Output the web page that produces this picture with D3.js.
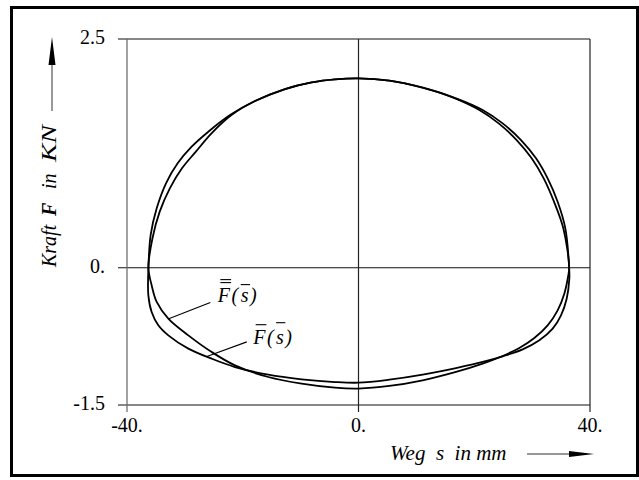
<!DOCTYPE html>
<html>
<head>
<meta charset="utf-8">
<script src="https://cdn.jsdelivr.net/npm/d3@7"></script>
<style>
  html, body { margin: 0; padding: 0; background: #fff; }
  svg { display: block; }
  text { font-family: "Liberation Serif", "Times New Roman", serif; fill: #000; }
</style>
</head>
<body>
<svg id="chart" width="639" height="480"></svg>
<script>
// Axis ticks and their printed labels
const xTicks = [-40, 0, 40];
const xTickLabels = ["-40.", "0.", "40."];
const yTicks = [-1.5, 0, 2.5];
const yTickLabels = ["-1.5", "0.", "2.5"];

// Closed force–displacement loop  F̄(s̄), counter-clockwise from the right crossing
const sBar = [36.4, 35.74, 34.41, 32.68, 30.67, 28.08, 24.91, 21.45, 16.85, 11.09, 5.33, 0,
  -4.06, -8.09, -12.70, -17.88, -22.20, -25.95, -28.83, -31.25, -33.26, -34.87, -35.91, -36.3,
  -36.31, -35.74, -34.59, -32.86, -29.40, -25.37, -21.34, -15.58, -9.82, -4.06, 0,
  5.33, 11.09, 16.85, 21.45, 24.91, 28.37, 31.25, 33.55, 34.99, 35.97, 36.43];
const fBar = [0.0, 0.431, 0.722, 0.977, 1.196, 1.396, 1.578, 1.724, 1.852, 1.968, 2.045, 2.07,
  2.059, 2.026, 1.953, 1.822, 1.669, 1.487, 1.323, 1.141, 0.923, 0.649, 0.358, 0.0,
  -0.301, -0.484, -0.629, -0.739, -0.884, -0.994, -1.085, -1.169, -1.219, -1.249, -1.256,
  -1.223, -1.168, -1.096, -1.030, -0.968, -0.892, -0.793, -0.666, -0.520, -0.338, -0.119];

// Closed force–displacement loop  F̿(s̄), same orientation
const sDbl = [36.4, 35.39, 33.78, 32.00, 29.92, 27.33, 24.22, 20.88, 16.27, 11.09, 5.33, 0,
  -4.06, -8.09, -12.70, -17.88, -21.95, -25.4, -28.1, -30.5, -32.6, -34.35, -35.6, -36.3,
  -35.74, -34.87, -32.86, -29.40, -25.37, -21.34, -15.58, -9.82, -4.06, 0,
  5.33, 11.09, 16.85, 21.45, 24.91, 27.79, 30.38, 32.68, 34.41, 35.56, 36.20];
const fDbl = [0.0, 0.431, 0.722, 0.977, 1.196, 1.396, 1.578, 1.724, 1.862, 1.968, 2.045, 2.07,
  2.059, 2.026, 1.953, 1.822, 1.669, 1.469, 1.269, 1.087, 0.868, 0.613, 0.322, 0.0,
  -0.192, -0.374, -0.556, -0.739, -0.921, -1.067, -1.194, -1.267, -1.311, -1.32,
  -1.292, -1.230, -1.139, -1.048, -0.964, -0.877, -0.768, -0.629, -0.465, -0.283, -0.101];

const svg = d3.select("#chart");
const x = d3.scaleLinear().domain([-40, 40]).range([127, 590]);
const y = d3.scaleLinear().domain([-1.5, 2.5]).range([405, 39]);

// outer frame
svg.append("rect")
  .attr("x", 11.5).attr("y", 7.5).attr("width", 626).attr("height", 468)
  .attr("fill", "none").attr("stroke", "#000").attr("stroke-width", 3);

// every tick runs across the plot and a little past the axis
const tickOut = 9;
svg.append("g").selectAll("line").data(yTicks).join("line")
  .attr("x1", x(-40) - tickOut).attr("x2", x(40))
  .attr("y1", d => y(d)).attr("y2", d => y(d))
  .attr("stroke", "#111").attr("stroke-width", 1.2);
svg.append("g").selectAll("line").data(xTicks).join("line")
  .attr("x1", d => x(d)).attr("x2", d => x(d))
  .attr("y1", y(2.5)).attr("y2", y(-1.5) + 7)
  .attr("stroke", (d, i) => i === 0 ? "#666" : "#222").attr("stroke-width", 1.2);

// tick labels
svg.append("g").selectAll("text").data(yTicks).join("text")
  .attr("x", 105).attr("y", d => y(d) + 5)
  .attr("text-anchor", "end").attr("font-size", 20)
  .text((d, i) => yTickLabels[i]);
svg.append("g").selectAll("text").data(xTicks).join("text")
  .attr("x", d => x(d)).attr("y", y(-1.5) + 27)
  .attr("text-anchor", "middle").attr("font-size", 20)
  .text((d, i) => xTickLabels[i]);

// curves
const line = d3.line()
  .x(d => x(d[0])).y(d => y(d[1]))
  .curve(d3.curveCatmullRomClosed.alpha(0.5));
const loopBar = sBar.map((s, i) => [s, fBar[i]]);
const loopDbl = sDbl.map((s, i) => [s, fDbl[i]]);
svg.append("path").attr("d", line(loopBar))
  .attr("fill", "none").attr("stroke", "#000").attr("stroke-width", 1.8);
svg.append("path").attr("d", line(loopDbl))
  .attr("fill", "none").attr("stroke", "#000").attr("stroke-width", 1.8);

// curve labels with overlines and leader lines
function curveLabel(sx, fy, fBars, sBarY, leadFrom, leadTo) {
  const g = svg.append("g");
  const x0 = x(sx), base = y(fy);
  const parts = [["F", fBars], ["(", 0], ["s", 1], [")", 0]];
  let cx = x0;
  parts.forEach(([t, bars], k) => {
    const el = g.append("text").attr("x", cx).attr("y", base)
      .attr("font-size", 20).attr("font-style", "italic").text(t);
    const w = el.node().getComputedTextLength();
    for (let b = 0; b < bars; b++) {
      const yy = (t === "F" ? base - 19 - b * 3 : base - sBarY);
      g.append("line")
        .attr("x1", cx + (t === "F" ? 2.5 : 0)).attr("x2", cx + w + (t === "F" ? 1 : 1.5))
        .attr("y1", yy).attr("y2", yy)
        .attr("stroke", "#000").attr("stroke-width", 1.1);
    }
    cx += w + (k === 1 ? 2.5 : 1.5);
  });
  g.append("line")
    .attr("x1", x(leadFrom[0])).attr("y1", y(leadFrom[1]))
    .attr("x2", x(leadTo[0])).attr("y2", y(leadTo[1]))
    .attr("stroke", "#000").attr("stroke-width", 1.1);
}
curveLabel(-24.3, -0.37, 2, 17, [-25.6, -0.38], [-32.9, -0.56]);
curveLabel(-18.2, -0.83, 1, 21, [-19.3, -0.81], [-26.2, -0.97]);

// x-axis title with arrow
svg.append("text").attr("x", 390).attr("y", 460)
  .attr("font-size", 21).attr("font-style", "italic")
  .attr("xml:space", "preserve").text("Weg  s  in mm");
svg.append("line").attr("x1", 527).attr("x2", 572).attr("y1", 454).attr("y2", 454)
  .attr("stroke", "#333").attr("stroke-width", 1.2);
svg.append("path").attr("d", "M569,451 L594,454 L569,457 Z").attr("fill", "#000");

// y-axis title (rotated) with arrow
const yt = svg.append("g").attr("transform", "translate(56,0) rotate(-90)");
yt.append("text").attr("x", -267).attr("y", 0)
  .attr("font-size", 20).attr("font-style", "italic").text("Kraft");
yt.append("text").attr("x", -216).attr("y", 0)
  .attr("font-size", 20).attr("font-style", "italic").attr("font-weight", "bold").text("F");
yt.append("text").attr("x", -189).attr("y", 0)
  .attr("font-size", 20).attr("font-style", "italic").text("in");
yt.append("text").attr("x", -162).attr("y", 0)
  .attr("font-size", 20).attr("font-style", "italic")
  .attr("textLength", 37).attr("lengthAdjust", "spacingAndGlyphs").text("KN");
svg.append("line").attr("x1", 52).attr("x2", 52).attr("y1", 111).attr("y2", 62)
  .attr("stroke", "#555").attr("stroke-width", 1.2);
svg.append("path").attr("d", "M48.5,65 L52,37 L55.5,65 Z").attr("fill", "#000");
</script>
</body>
</html>
